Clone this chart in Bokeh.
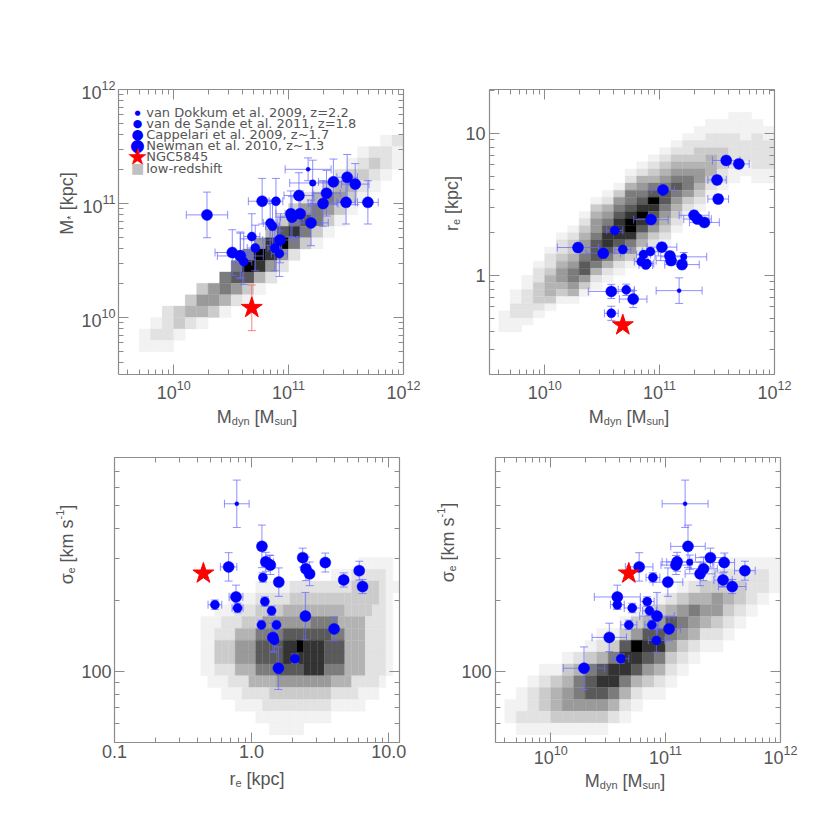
import math
from bokeh.plotting import figure
from bokeh.models import (ColumnDataSource, LogAxis, FixedTicker, LogTickFormatter,
                          PrintfTickFormatter, CustomJSTickFormatter, Whisker, TeeHead,
                          Label, Range1d)
from bokeh.layouts import column, row
from bokeh.embed import file_html
from bokeh.resources import INLINE

# ------------------------------------------------------------------ data
# sample codes: N = Newman+2010, C = Cappellari+2009, S = van de Sande+2011, D = van Dokkum+2009
sample = ["N"] * 17 + ["C"] * 9 + ["S", "D"]
log_mdyn = [11.58, 11.69, 11.50, 11.51, 11.03, 10.925, 11.30, 11.33, 11.39, 10.29, 10.51,
            11.02, 11.09, 11.10, 11.195, 10.58, 10.77,
            10.61, 10.68, 10.92, 10.86, 10.84, 10.89, 10.88, 10.71, 10.58,
            11.21, 11.17]
log_mstar = [11.17, 11.01, 11.01, 11.23, 10.88, 10.68, 11.00, 11.09, 11.19, 10.90, 10.57,
             10.91, 11.07, 10.91, 10.83, 10.54, 11.02,
             10.49, 10.71, 10.56, 10.80, 10.83, 11.02, 10.61, 10.61, 10.55,
             11.18, 11.30]
re_kpc = [6.45, 6.10, 4.70, 3.45, 4.00, 2.47, 2.65, 2.49, 2.36, 1.57, 1.43,
          1.58, 1.37, 1.27, 1.19, 0.77, 0.68,
          2.07, 1.52, 1.47, 1.40, 1.25, 1.21, 1.18, 0.79, 0.54,
          1.35, 0.78]
sigma = [228, 266, 243, 288, 151, 171, 258, 271, 302, 103, 139,
         238, 281, 290, 337, 206, 276,
         113, 157, 135, 180, 197, 249, 157, 185, 191,
         289, 510]
# errors in dex
err_mdyn = [0.12, 0.09, 0.08, 0.09, 0.10, 0.15, 0.13, 0.12, 0.13, 0.18, 0.15,
            0.13, 0.13, 0.13, 0.15, 0.20, 0.12,
            0.07, 0.07, 0.07, 0.06, 0.06, 0.06, 0.06, 0.07, 0.06,
            0.20, 0.20]
err_mstar = [0.18, 0.19, 0.19, 0.20, 0.18, 0.20, 0.20, 0.20, 0.20, 0.20, 0.20,
             0.20, 0.20, 0.20, 0.20, 0.20, 0.20,
             0.20, 0.20, 0.20, 0.20, 0.20, 0.20, 0.20, 0.20, 0.20,
             0.20, 0.10]
err_re = [0.03, 0.03, 0.03, 0.03, 0.03, 0.03, 0.03, 0.03, 0.03, 0.03, 0.03,
          0.03, 0.03, 0.03, 0.03, 0.05, 0.06,
          0.02, 0.02, 0.02, 0.02, 0.02, 0.02, 0.02, 0.04, 0.05,
          0.03, 0.09]
err_sigma = [0.03, 0.04, 0.03, 0.04, 0.05, 0.10, 0.05, 0.05, 0.04, 0.09, 0.06,
             0.06, 0.04, 0.04, 0.09, 0.05, 0.06,
             0.02, 0.02, 0.05, 0.02, 0.02, 0.02, 0.02, 0.02, 0.02,
             0.03, 0.10]

# NGC5845
ngc_log_mdyn = 10.68
ngc_log_mstar = 10.085
ngc_err_mstar = 0.20
ngc_re = 0.445
ngc_sigma = 259

legend_labels = ["van Dokkum et al. 2009, z=2.2", "van de Sande et al. 2011, z=1.8",
                 "Cappelari et al. 2009, z~1.7", "Newman et al. 2010, z~1.3",
                 "NGC5845", "low-redshift"]

# low-redshift 2D histograms, grey level 0..9
# TL: rows (0.1 dex in log M*, from 11.7 down), columns 0.1 dex in log Mdyn from 9.6
tl_start = [0, 22, 20, 19, 18, 16, 15, 14, 13, 12, 11, 10, 9, 8, 6, 5, 3, 2, 1, 1]
tl_vals = ["", "12", "1221", "12321", "23321", "134421", "246531", "356531", "367631",
           "478631", "589631", "69852", "69852", "67742", "356531", "355421", "234431",
           "12321", "1221", "111"]
# TR: columns (0.1 dex in log Mdyn from 9.6), rows 0.05 dex in log re from 1.25 down
tr_start = [30, 27, 25, 23, 21, 19, 18, 16, 14, 13, 12, 10, 9, 8, 7, 6, 5, 4, 3, 3, 2, 2, 3, 4, 5]
tr_vals = ["111", "112211", "1122221", "12233321", "122344431", "1223455431", "12334566541",
           "123455677531", "1345567776421", "1245678876421", "1356788875421",
           "12466789986531", "12456789875421", "12346798765321", "12345677654321",
           "1234567654321", "122345665321", "112334554321", "11223444321", "1122333221",
           "1112222211", "111122211", "112222211", "11222211", "1111"]
# BL: rows (0.05 dex in log sigma from 2.481 down), columns 0.05 dex in log re from -0.47
bl_start = [25, 21, 10, 6, 4, 2, 2, 2, 2, 2, 3, 5, 7, 10, 12]
bl_vals = ["11111", "111222221", "111112222222223333211", "111122222333333333333321",
           "11122233334444444443333221", "1112223335555555666644442221",
           "1122244466667777777664442221", "1133355577778898887774442221",
           "1133355577778888887774442221", "1122244466677778886664442221",
           "11122244445555555544422221", "11122223333333332222111",
           "1111222222222211111", "11111111111", "11111"]
# BR: columns (0.1 dex in log Mdyn from 9.6), rows 0.05 dex in log sigma from 2.481 down
br_start = [12, 11, 10, 9, 9, 8, 8, 7, 6, 6, 5, 4, 4, 3, 3, 2, 2, 1, 1, 0, 0, 0, 0, 0]
br_vals = ["11", "1121", "12221", "123321", "134431", "1345531", "2466531", "13677531",
           "124787531", "13688642", "137886421", "135987421", "24787531", "135786421",
           "24765321", "13565321", "2465421", "1345421", "2355321", "1234321", "123321",
           "12221", "1221", "111"]

# ------------------------------------------------------------------ style
GREYS = ["#ffffff", "#f2f2f2", "#e2e2e2", "#cbcbcb", "#b3b3b3", "#9a9a9a",
         "#7c7c7c", "#5a5a5a", "#333333", "#000000"]
AX = "#8c8c8c"
TXT = "#555555"
FONT = "Liberation Sans"
SIZES = {"N": 11, "C": 9, "S": 6.5, "D": 4}
ERRC = "#6a6aff"

mdyn = [10 ** v for v in log_mdyn]
mstar = [10 ** v for v in log_mstar]


def make_fig(xr, yr, left, right, top, bottom):
    p = figure(x_axis_type="log", y_axis_type="log",
               x_range=Range1d(*xr), y_range=Range1d(*yr),
               frame_width=285, frame_height=285,
               min_border_left=left, min_border_right=right,
               min_border_top=top, min_border_bottom=bottom,
               output_backend="svg", toolbar_location=None,
               background_fill_color="white", border_fill_color="white")
    p.grid.visible = False
    p.outline_line_color = None
    return p


def label_fig(w, h):
    f = figure(width=w, height=h, x_range=Range1d(0, 1), y_range=Range1d(0, 1),
               x_axis_location=None, y_axis_location=None, toolbar_location=None,
               min_border=0, output_backend="svg", outline_line_color=None,
               background_fill_color="white", border_fill_color="white")
    f.grid.visible = False
    return f


def minors(decades, mult=range(2, 10)):
    return [m * 10.0 ** d for d in decades for m in mult]


def style_axis(ax, ticker, formatter, show, standoff=5):
    ax.ticker = ticker
    ax.formatter = formatter if show else CustomJSTickFormatter(code="return ''")
    ax.axis_line_color = AX
    ax.axis_line_width = 1.2
    ax.major_tick_line_color = AX
    ax.minor_tick_line_color = AX
    ax.major_tick_in = 10
    ax.major_tick_out = 0
    ax.minor_tick_in = 5
    ax.minor_tick_out = 0
    ax.major_label_text_font = FONT
    ax.major_label_text_color = TXT
    ax.major_label_text_font_size = "18px" if show else "6px"
    ax.major_label_standoff = standoff if show else 0


def setup_axes(p, xt, xf, yt, yf, xstand=5, ystand=5):
    style_axis(p.xaxis[0], xt, xf, True, xstand)
    style_axis(p.yaxis[0], yt, yf, True, ystand)
    top = LogAxis()
    style_axis(top, xt, xf, False)
    p.add_layout(top, "above")
    right = LogAxis()
    style_axis(right, yt, yf, False)
    p.add_layout(right, "right")


def hist(p, starts, vals, x0, dx, ytop, dy, by_col):
    L, R, T, B, C = [], [], [], [], []
    for i, (s, digits) in enumerate(zip(starts, vals)):
        for k, ch in enumerate(digits):
            v = int(ch)
            if v == 0:
                continue
            j = s + k
            c, r = (i, j) if by_col else (j, i)
            lx = x0 + dx * c
            ty = ytop - dy * r
            L.append(10 ** lx)
            R.append(10 ** (lx + dx))
            T.append(10 ** ty)
            B.append(10 ** (ty - dy))
            C.append(GREYS[v])
    src = ColumnDataSource(dict(left=L, right=R, top=T, bottom=B, color=C))
    p.quad(left="left", right="right", top="top", bottom="bottom", fill_color="color",
           line_color="color", line_width=0.3, source=src, level="image")


def add_errors(p, src, color, alpha, both=True):
    dims = [("height", "x", "ylo", "yhi")]
    if both:
        dims.append(("width", "y", "xlo", "xhi"))
    for dim, base, lo, hi in dims:
        w = Whisker(source=src, base=base, lower=lo, upper=hi, dimension=dim,
                    line_color=color, line_alpha=alpha, line_width=1, level="underlay",
                    upper_head=TeeHead(size=8, line_color=color, line_alpha=alpha, line_width=1),
                    lower_head=TeeHead(size=8, line_color=color, line_alpha=alpha, line_width=1))
        p.add_layout(w)


def add_points(p, xv, yv, xe, ye):
    src = ColumnDataSource(dict(
        x=xv, y=yv,
        xlo=[v / 10 ** e for v, e in zip(xv, xe)],
        xhi=[v * 10 ** e for v, e in zip(xv, xe)],
        ylo=[v / 10 ** e for v, e in zip(yv, ye)],
        yhi=[v * 10 ** e for v, e in zip(yv, ye)],
        size=[SIZES[s] for s in sample]))
    add_errors(p, src, ERRC, 0.75)
    p.scatter("x", "y", size="size", source=src, fill_color="#0000ff",
              line_color="#0000ff", line_width=0.5)


def add_star(p, x, y):
    p.scatter([x], [y], marker="star", size=22, fill_color="#ff0000", line_color="#ff0000")


WID = {'M': .833, 'd': .556, 'y': .5, 'n': .556, ' ': .278, '[': .278, ']': .278,
       's': .5, 'u': .556, 'r': .333, 'e': .556, 'k': .5, 'p': .556, 'c': .5,
       'm': .833, 'σ': .6, '*': .389, '-': .333, '1': .556}


def tw(t, s):
    return sum(WID.get(ch, 0.55) for ch in t) * s


def rich_label(f, pieces, cx, cy, vertical):
    total = sum(tw(t, s) for t, s, _ in pieces)
    pos = -total / 2
    for t, s, sh in pieces:
        body = t.lstrip(" ")
        pos += tw(t[:len(t) - len(body)], s)
        if vertical:
            x, y, ang = cx - sh, cy + pos, math.pi / 2
        else:
            x, y, ang = cx + pos, cy + sh, 0
        f.add_layout(Label(x=x, y=y, x_units="screen", y_units="screen", text=body,
                           angle=ang, text_font=FONT, text_font_size=f"{s}px",
                           text_color=TXT, text_align="left", text_baseline="alphabetic"))
        pos += tw(body, s)


MDYN_LBL = [("M", 18, 0), ("dyn", 11, -4), (" [M", 18, 0), ("sun", 11, -4), ("]", 18, 0)]
RE_LBL = [("r", 18, 0), ("e", 11, -4), (" [kpc]", 18, 0)]
SIG_LBL = [("σ", 18, 0), ("e", 11, -4), (" [km s", 18, 0), ("-1", 11, 7), ("]", 18, 0)]
MST_LBL = [("M", 18, 0), ("*", 11, -4), (" [kpc]", 18, 0)]


def mass_ticker():
    return FixedTicker(ticks=[1e10, 1e11, 1e12], minor_ticks=minors([9, 10, 11]))


def sig_ticker():
    return FixedTicker(ticks=[100], minor_ticks=[50, 60, 70, 80, 90, 200, 300, 400, 500, 600, 700, 800])


YL_L, YL_R = 78, 29          # widths of the y-title strips
BL_L, BL_R = 36, 24          # left borders of the plots
TOP_H = 89 + 285 + 28
BOT_H = 29 + 285 + 22
XL_H = 26
ROW2 = TOP_H + XL_H

# ------------------------------------------------------------------ TL
p1 = make_fig((10 ** 9.52, 1e12), (10 ** 9.5, 1e12), BL_L, 30, 89, 28)
setup_axes(p1, mass_ticker(), LogTickFormatter(), mass_ticker(), LogTickFormatter(), ystand=3)
hist(p1, tl_start, tl_vals, 9.6, 0.1, 11.7, 0.1, False)
add_points(p1, mdyn, mstar, err_mdyn, err_mstar)
ngc_src = ColumnDataSource(dict(x=[10 ** ngc_log_mdyn], y=[10 ** ngc_log_mstar],
                                ylo=[10 ** (ngc_log_mstar - ngc_err_mstar)],
                                yhi=[10 ** (ngc_log_mstar + ngc_err_mstar)]))
add_errors(p1, ngc_src, "#ff6060", 0.8, both=False)
add_star(p1, 10 ** ngc_log_mdyn, 10 ** ngc_log_mstar)

# legend (inside the frame)
leg_y = [262, 251, 240.5, 229.5, 218, 206.5]
for txt, yy in zip(legend_labels, leg_y):
    p1.add_layout(Label(x=27.7, y=yy, x_units="screen", y_units="screen", text=txt,
                        text_font="DejaVu Sans", text_font_size="13px", text_color=TXT,
                        text_baseline="middle", text_align="left"))
leg_marks = [("●", "7px", "#0000ff"), ("●", "11px", "#0000ff"), ("●", "14px", "#0000ff"),
             ("●", "17px", "#0000ff"), ("★", "24px", "#ff0000"), ("■", "14px", "#c0c0c0")]
for (g, fs, col), yy in zip(leg_marks, leg_y):
    p1.add_layout(Label(x=19, y=yy, x_units="screen", y_units="screen", text=g,
                        text_font="DejaVu Sans", text_font_size=fs, text_color=col,
                        text_baseline="middle", text_align="center"))

# ------------------------------------------------------------------ TR
p2 = make_fig((10 ** 9.52, 1e12), (0.2, 20.4), BL_R, 30, 89, 28)
setup_axes(p2, mass_ticker(), LogTickFormatter(),
           FixedTicker(ticks=[1, 10], minor_ticks=minors([-1, 0]) + [20]),
           PrintfTickFormatter(format="%d"), ystand=4)
hist(p2, tr_start, tr_vals, 9.6, 0.1, 1.25, 0.05, True)
add_points(p2, mdyn, re_kpc, err_mdyn, err_re)
add_star(p2, 10 ** ngc_log_mdyn, ngc_re)

# ------------------------------------------------------------------ BL
p3 = make_fig((0.1, 12), (50, 800), BL_L, 30, 29, 22)
setup_axes(p3, FixedTicker(ticks=[0.1, 1, 10], minor_ticks=minors([-1, 0])),
           PrintfTickFormatter(format="%.1f"), sig_ticker(), PrintfTickFormatter(format="%d"),
           xstand=2, ystand=3)
hist(p3, bl_start, bl_vals, -0.47, 0.05, 2.481, 0.05, False)
add_points(p3, re_kpc, sigma, err_re, err_sigma)
add_star(p3, ngc_re, ngc_sigma)

# ------------------------------------------------------------------ BR
p4 = make_fig((10 ** 9.52, 1e12), (50, 800), BL_R, 30, 29, 22)
setup_axes(p4, mass_ticker(), LogTickFormatter(), sig_ticker(), PrintfTickFormatter(format="%d"),
           xstand=2, ystand=4)
hist(p4, br_start, br_vals, 9.6, 0.1, 2.481, 0.05, True)
add_points(p4, mdyn, sigma, err_mdyn, err_sigma)
add_star(p4, 10 ** ngc_log_mdyn, ngc_sigma)

# ------------------------------------------------------------------ axis titles
yl1 = label_fig(YL_L, TOP_H)
rich_label(yl1, MST_LBL, 66, TOP_H - 231, True)
yl2 = label_fig(YL_R, TOP_H)
rich_label(yl2, RE_LBL, 18, TOP_H - 231, True)
yl3 = label_fig(YL_L, BOT_H)
rich_label(yl3, SIG_LBL, 66, ROW2 + BOT_H - 566, True)
yl4 = label_fig(YL_R, BOT_H)
rich_label(yl4, SIG_LBL, 18, ROW2 + BOT_H - 566, True)

W_LEFT = YL_L + BL_L + 285 + 30
W_RIGHT = YL_R + BL_R + 285 + 30
xl1 = label_fig(W_LEFT, XL_H)
rich_label(xl1, MDYN_LBL, 256.5, 12, False)
xl2 = label_fig(W_RIGHT, XL_H)
rich_label(xl2, MDYN_LBL, 624.5 - W_LEFT, 12, False)
xl3 = label_fig(W_LEFT, XL_H)
rich_label(xl3, RE_LBL, 256.5, 12, False)
xl4 = label_fig(W_RIGHT, XL_H)
rich_label(xl4, MDYN_LBL, 624.5 - W_LEFT, 12, False)

cell1 = column(row(yl1, p1), xl1)
cell2 = column(row(yl2, p2), xl2)
cell3 = column(row(yl3, p3), xl3)
cell4 = column(row(yl4, p4), xl4)
layout = column(row(cell1, cell2), row(cell3, cell4))
open("out.html", "w").write(file_html(layout, INLINE))
